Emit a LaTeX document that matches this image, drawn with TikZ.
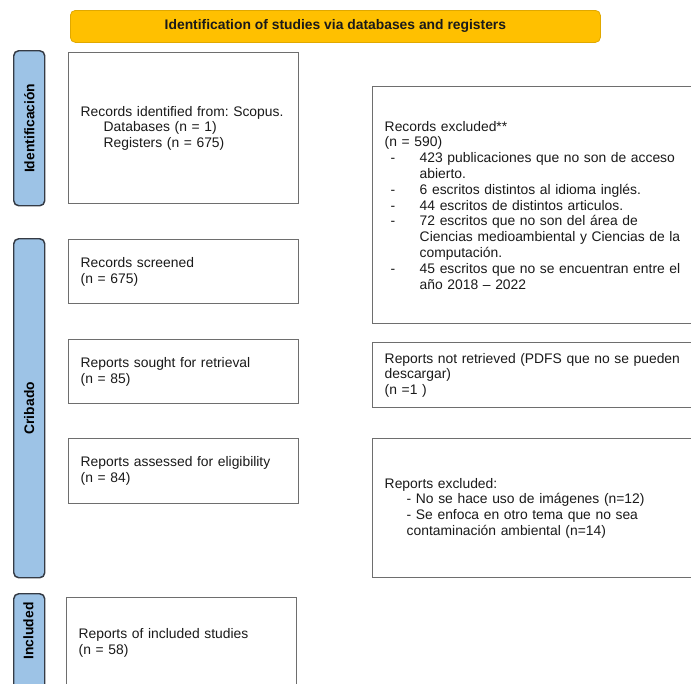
\documentclass[tikz,border=0pt]{standalone}
\usepackage{fontspec}
\setmainfont{Liberation Sans}
\frenchspacing
\definecolor{hdrfill}{HTML}{FFC000}
\definecolor{hdrdraw}{HTML}{E0A800}
\definecolor{barfill}{HTML}{9DC3E6}
\definecolor{bardraw}{HTML}{353B45}
\definecolor{boxdraw}{HTML}{6E6E6E}
\definecolor{txt}{HTML}{1A1A1A}
\newcommand\bul[1]{\makebox[26.25pt][l]{\hspace*{4.5pt}-}#1}
\newcommand\cont[1]{\hspace*{26.25pt}#1}
\begin{document}
\begin{tikzpicture}[x=0.75pt,y=-0.75pt,
  every node/.style={font=\fontsize{10.4pt}{11.85pt}\selectfont\frenchspacing, text=txt},
  hdr/.style={draw=hdrdraw, line width=0.6pt, fill=hdrfill, rounded corners=3.75pt, anchor=north west,
    minimum width=397.5pt, minimum height=24pt, inner sep=0pt, font=\fontsize{10.4pt}{11.85pt}\selectfont\bfseries},
  bar/.style={draw=bardraw, line width=1.1pt, fill=barfill, rounded corners=3.75pt, anchor=north west,
    minimum width=23.25pt, inner sep=0pt},
  bartext/.style={rotate=90, font=\fontsize{10.4pt}{11.85pt}\selectfont\bfseries, text=black},
  lbox/.style={draw=boxdraw, line width=1.1pt, fill=white, anchor=north west, inner xsep=9pt, inner ysep=0pt,
    align=left, text width=154.5pt, minimum width=172.5pt},
  rbox/.style={draw=boxdraw, line width=1.1pt, fill=white, anchor=north west, inner xsep=9pt, inner ysep=0pt,
    align=left, text width=243pt, minimum width=261pt}
]
\useasboundingbox (0,0) rectangle (691,683);
\begin{scope}
\clip (0,0) rectangle (691,683);
% header
\node[hdr] (head) at (70,10) {Identification of studies via databases and registers};
% side bars
\node[bar, minimum height=116.25pt] (bid) at (13,50) {};
\node[bar, minimum height=254.25pt] (bcr) at (13,238) {};
\node[bar, minimum height=100pt] (bin) at (13,593) {};
\node[bartext] (tid) at (bid.center) {Identificación};
\node[bartext] (tcr) at (bcr.center) {Cribado};
\node[bartext] (tin) at (28.5,631) {Included};
% left boxes
\node[lbox, minimum height=113.25pt] (ident) at (68,52)
  {Records identified from: Scopus.\\\hspace*{17.25pt}Databases (n = 1)\\\hspace*{17.25pt}Registers (n = 675)};
\node[lbox, minimum height=48pt] (screen) at (68,239) {Records screened\\(n = 675)};
\node[lbox, minimum height=48pt] (sought) at (68,339) {Reports sought for retrieval\\(n = 85)};
\node[lbox, minimum height=48.75pt] (assess) at (68,438) {Reports assessed for eligibility\\(n = 84)};
\node[lbox, minimum height=67.5pt] (incl) at (66,597) {Reports of included studies\\(n = 58)};
% right boxes
\node[rbox, minimum height=177.75pt] (recex) at (372,86)
  {Records excluded**\\(n = 590)\\
   \bul{423 publicaciones que no son de acceso}\\
   \cont{abierto.}\\
   \bul{6 escritos distintos al idioma inglés.}\\
   \bul{44 escritos de distintos articulos.}\\
   \bul{72 escritos que no son del área de}\\
   \cont{Ciencias medioambiental y Ciencias de la}\\
   \cont{computación.}\\
   \bul{45 escritos que no se encuentran entre el}\\
   \cont{año 2018 – 2022}};
\node[rbox, minimum height=48.75pt] (notret) at (372,342)
  {Reports not retrieved (PDFS que no se pueden\\descargar)\\(n =1 )};
\node[rbox, minimum height=104.25pt] (repex) at (372,438)
  {Reports excluded:\\
   \hspace*{16.5pt}- No se hace uso de imágenes (n=12)\\
   \hspace*{16.5pt}- Se enfoca en otro tema que no sea\\
   \hspace*{16.5pt}contaminación ambiental (n=14)};
\end{scope}
\end{tikzpicture}
\end{document}
